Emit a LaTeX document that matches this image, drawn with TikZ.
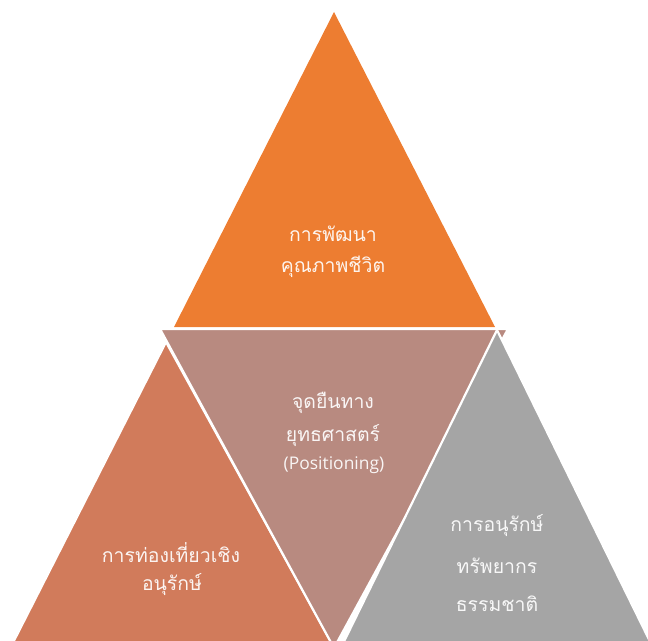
\documentclass[tikz,border=0pt]{standalone}
\usepackage{fontspec}
\newfontfamily\thaifont[Script=Thai]{Loma}
\newfontfamily\latinfont{Open Sans}
\definecolor{orng}{HTML}{ED7D31}
\definecolor{salmon}{HTML}{D17B5B}
\definecolor{mauve}{HTML}{B88A80}
\definecolor{grayt}{HTML}{A5A5A5}
\tikzset{
  tri/.style={draw=white,line width=2.2bp,line join=miter},
  lbl/.style={text=white,text opacity=0.92,inner sep=0pt,font=\thaifont\fontsize{19.5}{19.5}\selectfont},
  sml/.style={text=white,text opacity=0.92,inner sep=0pt,font=\latinfont\fontsize{17.5}{17.5}\selectfont}
}
\begin{document}
\begin{tikzpicture}[x=1bp,y=-1bp]
\useasboundingbox (0,0) rectangle (648,641);
\clip (0,0) rectangle (648,641);
% top triangle
\fill[orng] (334,12) -- (495,327) -- (174,327) -- cycle;
% left triangle
\filldraw[tri,fill=salmon] (166,342) -- (-6,680) -- (352,680) -- cycle;
% middle inverted triangle
\filldraw[tri,fill=mauve] (160,329) -- (508,329) -- (334,648) -- cycle;
% right triangle
\filldraw[tri,fill=grayt] (497,330) -- (330,670) -- (664,670) -- cycle;
% labels
\node[lbl] (t1) at (333,234) {การพัฒนา};
\node[lbl] (t2) at (333,267) {คุณภาพชีวิต};
\node[lbl] (m1) at (333,403) {จุดยืนทาง};
\node[lbl] (m2) at (333,436) {ยุทธศาสตร์};
\node[sml] (m3) at (334,465) {(Positioning)};
\node[lbl] (l1) at (171,553) {การท่องเที่ยวเชิง};
\node[lbl] (l2) at (172,585) {อนุรักษ์};
\node[lbl] (r1) at (497,526) {การอนุรักษ์};
\node[lbl] (r2) at (497,566) {ทรัพยากร};
\node[lbl] (r3) at (497,604) {ธรรมชาติ};
\end{tikzpicture}
\end{document}
